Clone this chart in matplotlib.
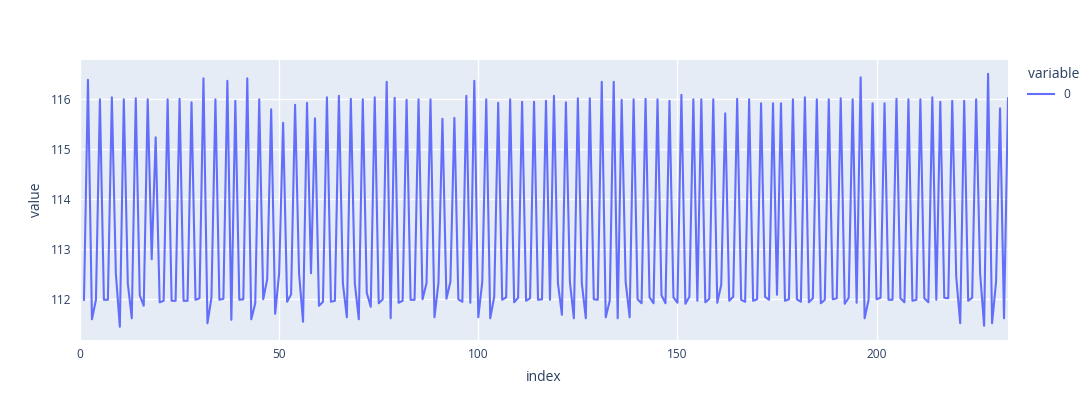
import matplotlib
matplotlib.use("Agg")
import matplotlib.pyplot as plt
import numpy as np

# values (index 0 is empty)
values = [
    np.nan,
    111.99, 116.39, 111.60, 111.99, 116.00, 111.99, 111.99, 116.04, 112.52, 111.45,
    116.00, 112.32, 111.62, 116.02, 112.08, 111.87, 116.00, 112.80, 115.24, 111.94,
    111.97, 116.00, 111.97, 111.97, 116.01, 111.97, 111.97, 115.94, 111.99, 112.02,
    116.42, 111.52, 112.03, 116.00, 111.99, 112.01, 116.37, 111.59, 115.97, 111.99,
    112.00, 116.42, 111.60, 111.92, 116.00, 112.00, 112.40, 115.80, 111.71, 112.52,
    115.53, 111.95, 112.10, 115.89, 112.52, 111.55, 115.93, 112.52, 115.62, 111.87,
    111.95, 116.04, 111.95, 111.97, 116.07, 112.32, 111.64, 116.01, 112.32, 111.60,
    116.00, 112.13, 111.85, 116.04, 111.92, 112.00, 116.35, 111.62, 116.03, 111.93,
    111.97, 115.99, 111.99, 111.99, 116.00, 112.00, 112.32, 116.00, 111.64, 112.33,
    115.61, 112.01, 112.35, 115.63, 112.00, 111.95, 116.07, 111.93, 116.37, 111.64,
    112.35, 116.00, 111.62, 112.05, 115.93, 111.99, 112.04, 116.00, 111.94, 112.03,
    115.95, 111.97, 112.02, 115.95, 111.99, 112.00, 115.97, 111.99, 116.07, 112.32,
    111.69, 115.94, 112.35, 111.62, 116.02, 112.32, 111.62, 116.02, 112.00, 111.99,
    116.35, 111.64, 111.97, 116.35, 111.62, 115.99, 112.35, 111.64, 116.00, 112.00,
    111.92, 116.01, 112.04, 111.92, 116.00, 112.08, 111.92, 115.97, 112.04, 111.93,
    116.09, 111.91, 112.05, 116.00, 111.97, 116.00, 111.94, 112.01, 116.00, 111.93,
    112.29, 115.72, 111.97, 112.05, 116.01, 111.99, 111.95, 116.00, 111.97, 112.00,
    115.92, 112.05, 111.99, 115.92, 112.09, 115.92, 111.97, 112.00, 116.00, 112.00,
    111.95, 116.04, 111.94, 112.02, 116.00, 111.92, 111.99, 116.00, 112.00, 112.02,
    116.02, 111.91, 112.03, 116.00, 111.93, 116.44, 111.62, 111.99, 115.92, 112.00,
    112.03, 115.92, 111.99, 111.99, 116.01, 112.02, 111.94, 116.00, 111.97, 111.99,
    116.00, 112.02, 111.94, 116.04, 111.99, 115.95, 112.03, 112.02, 115.97, 112.45,
    111.52, 115.97, 111.97, 112.03, 116.00, 112.52, 111.47, 116.51, 111.52, 112.35,
    115.82, 111.62, 116.02,
]
index = np.arange(len(values))
xticks = [0, 50, 100, 150, 200]
yticks = [112, 113, 114, 115, 116]

plt.rcParams['font.family'] = ['Open Sans', 'DejaVu Sans']
txt = '#2a3f5f'

fig = plt.figure(figsize=(10.92, 4.2), dpi=100)
ax = fig.add_axes([80 / 1092, 1 - 340 / 420, 928 / 1092, 280 / 420])
ax.set_facecolor('#E5ECF6')
line, = ax.plot(index, values, color='#636EFA', lw=1.5, label='0')

ax.set_xlim(0, len(values) - 1)
ax.set_ylim(111.186, 116.786)
ax.set_xticks(xticks)
ax.set_yticks(yticks)
ax.grid(True, color='white', lw=1)
ax.set_axisbelow(True)
for s in ax.spines.values():
    s.set_visible(False)
ax.tick_params(length=0, labelsize=8.6, labelcolor=txt, pad=6)
ax.set_xlabel('index', fontsize=10, color=txt, labelpad=6)
ax.set_ylabel('value', fontsize=10, color=txt, labelpad=5)

leg = fig.legend(handles=[line], title='variable', loc='upper left',
                 bbox_to_anchor=(1017 / 1092, 1 - 56 / 420), frameon=False,
                 fontsize=8.6, title_fontsize=10, handlelength=2.2,
                 alignment='left')
leg.get_title().set_color(txt)
for t in leg.get_texts():
    t.set_color(txt)

fig.savefig('out.png', dpi=100)
